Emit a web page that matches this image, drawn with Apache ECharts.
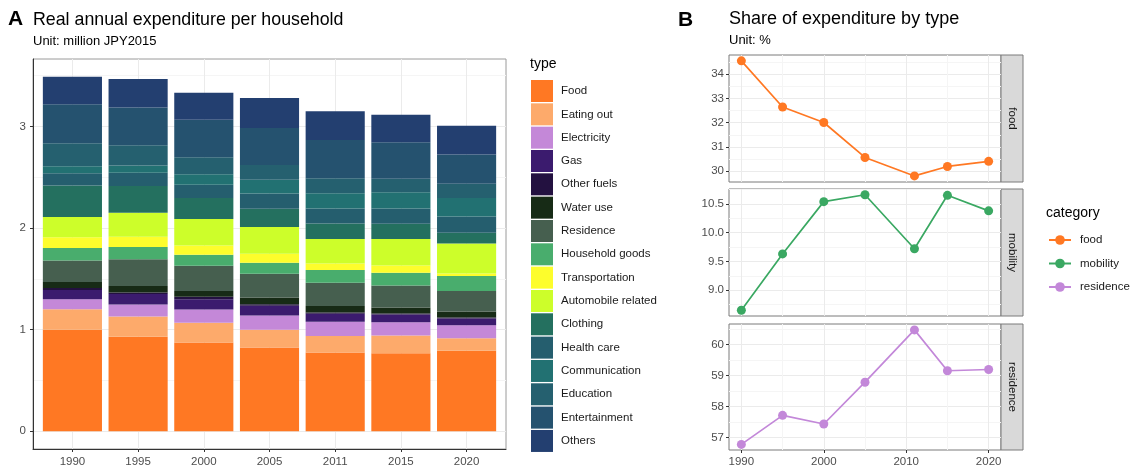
<!DOCTYPE html>
<html><head><meta charset="utf-8">
<script src="https://cdn.jsdelivr.net/npm/echarts@6/dist/echarts.min.js"></script>
<style>html,body{margin:0;padding:0;background:#fff}#c{width:1131px;height:468px}</style>
</head><body><div id="c"></div>
<script>
// ---- Panel A data (million JPY2015) ----
const years = ['1990','1995','2000','2005','2011','2015','2020'];
const types = ['Food','Eating out','Electricity','Gas','Other fuels','Water use','Residence','Household goods','Transportation','Automobile related','Clothing','Health care','Communication','Education','Entertainment','Others'];
const food           = [1.00, 0.93, 0.873, 0.824, 0.775, 0.769, 0.792];
const eatingOut      = [0.20, 0.20, 0.195, 0.176, 0.163, 0.173, 0.124];
const electricity    = [0.10, 0.118, 0.131, 0.14, 0.14, 0.13, 0.127];
const gas            = [0.09, 0.104, 0.101, 0.095, 0.079, 0.078, 0.068];
const otherFuels     = [0.02, 0.013, 0.023, 0.016, 0.013, 0.01, 0.01];
const waterUse       = [0.06, 0.065, 0.058, 0.066, 0.062, 0.059, 0.059];
const residence      = [0.21, 0.264, 0.249, 0.234, 0.231, 0.215, 0.201];
const householdGoods = [0.125, 0.121, 0.107, 0.108, 0.124, 0.127, 0.147];
const transportation = [0.105, 0.101, 0.091, 0.088, 0.065, 0.071, 0.026];
const automobile     = [0.20, 0.234, 0.261, 0.263, 0.241, 0.261, 0.294];
const clothing       = [0.31, 0.264, 0.208, 0.18, 0.153, 0.15, 0.107];
const healthCare     = [0.12, 0.131, 0.13, 0.15, 0.147, 0.15, 0.16];
const communication  = [0.07, 0.072, 0.102, 0.136, 0.15, 0.159, 0.182];
const education      = [0.225, 0.198, 0.169, 0.144, 0.147, 0.134, 0.14];
const entertainment  = [0.385, 0.372, 0.368, 0.365, 0.377, 0.359, 0.287];
const others         = [0.27, 0.28, 0.267, 0.295, 0.283, 0.27, 0.284];
const yTicksA = [0, 1, 2, 3];
const yMinorA = [0.5, 1.5, 2.5, 3.5];

// ---- Panel B data (%) ----
const shareYears     = [1990, 1995, 2000, 2005, 2011, 2015, 2020];
const foodShare      = [34.55, 32.65, 32.01, 30.57, 29.81, 30.20, 30.41];
const mobilityShare  = [8.65, 9.63, 10.54, 10.66, 9.72, 10.65, 10.38];
const residenceShare = [56.78, 57.72, 57.44, 58.79, 60.48, 59.16, 59.20];
const xTicksB = [1990, 2000, 2010, 2020];
const xMinorB = [1995, 2005, 2015];
const foodTicks = [30, 31, 32, 33, 34];
const foodMinor = [30.5, 31.5, 32.5, 33.5, 34.5];
const mobTicks = [9.0, 9.5, 10.0, 10.5];
const mobMinor = [8.75, 9.25, 9.75, 10.25, 10.75];
const resTicks = [57, 58, 59, 60];
const resMinor = [57.5, 58.5, 59.5, 60.5];

const typeValues = [food, eatingOut, electricity, gas, otherFuels, waterUse, residence, householdGoods, transportation, automobile, clothing, healthCare, communication, education, entertainment, others];
const typeColors = ['#ff7823','#fdaa6b','#c488d8','#3b1b6e','#231140','#172b16','#465f4f','#49ad6d','#fdfd2c','#cdfe2a','#24705f','#255e6e','#227172','#25606f','#25526f','#233f70'];

const FONT = '"Liberation Sans", Arial, sans-serif';
const MAJ = '#ebebeb', MIN = '#f5f5f5', AX = '#333333', LAB = '#4d4d4d';

const chart = echarts.init(document.getElementById('c'), null, {renderer: 'canvas'});

const grids = [
  {left: 33, top: 59, width: 473, height: 392, show: true, borderColor: '#9a9a9a', borderWidth: 1, backgroundColor: '#fff'},
  {left: 729, top: 55, width: 272, height: 127, show: true, borderColor: '#7a7a7a', borderWidth: 1},
  {left: 729, top: 189, width: 272, height: 127, show: true, borderColor: '#7a7a7a', borderWidth: 1},
  {left: 729, top: 324, width: 272, height: 126, show: true, borderColor: '#7a7a7a', borderWidth: 1}
];

function majorAxis(grid, min, max, ticks, opts) {
  opts = opts || {};
  return {
    type: 'value', gridIndex: grid, min: min, max: max, position: opts.position,
    axisLine: {show: !!opts.line, onZero: false, lineStyle: {color: AX, width: 1}},
    axisTick: {show: opts.tick !== false, customValues: ticks, length: 3, lineStyle: {color: AX}},
    axisLabel: {show: opts.label !== false, customValues: ticks, color: LAB, fontSize: 11.5, fontFamily: FONT,
                margin: opts.margin || 5, formatter: opts.fmt || (v => String(v))},
    splitLine: {show: true, lineStyle: {color: MAJ, width: 1}},
    minorTick: {show: false}
  };
}
function minorAxis(grid, min, max, ticks, position) {
  return {
    type: 'value', gridIndex: grid, min: min, max: max, position: position,
    axisLine: {show: false}, axisTick: {show: false, customValues: ticks},
    axisLabel: {show: false, customValues: ticks},
    splitLine: {show: true, lineStyle: {color: MIN, width: 1}}
  };
}

const xAxis = [
  majorAxis(0, -0.6, 6.6, [0,1,2,3,4,5,6], {line: true, position: 'bottom', margin: 7, fmt: v => years[v]}),
  majorAxis(1, 1988.5, 2021.5, xTicksB, {position: 'bottom', tick: false, label: false}),
  minorAxis(1, 1988.5, 2021.5, xMinorB, 'top'),
  majorAxis(2, 1988.5, 2021.5, xTicksB, {position: 'bottom', tick: false, label: false}),
  minorAxis(2, 1988.5, 2021.5, xMinorB, 'top'),
  majorAxis(3, 1988.5, 2021.5, xTicksB, {position: 'bottom', margin: 6}),
  minorAxis(3, 1988.5, 2021.5, xMinorB, 'top')
];
const yAxis = [
  majorAxis(0, -0.1745, 3.6645, yTicksA, {line: true, position: 'left', margin: 7}),
  minorAxis(0, -0.1745, 3.6645, yMinorA, 'right'),
  majorAxis(1, 29.56, 34.79, foodTicks, {position: 'left', margin: 5}),
  minorAxis(1, 29.56, 34.79, foodMinor, 'right'),
  majorAxis(2, 8.55, 10.76, mobTicks, {position: 'left', margin: 5, fmt: v => v.toFixed(1)}),
  minorAxis(2, 8.55, 10.76, mobMinor, 'right'),
  majorAxis(3, 56.6, 60.67, resTicks, {position: 'left', margin: 5}),
  minorAxis(3, 56.6, 60.67, resMinor, 'right')
];

// value first, category index second -> stacking happens on the value (y) dimension
const series = types.map((t, k) => ({
  name: t, type: 'bar', stack: 'total', xAxisIndex: 0, yAxisIndex: 0,
  barWidth: '90%',
  encode: {x: 1, y: 0},
  itemStyle: {color: typeColors[k]},
  data: typeValues[k].map((v, i) => [v, i])
}));

const lineDefs = [
  {name: 'food', vals: foodShare, color: '#ff7823', x: 1, y: 2},
  {name: 'mobility', vals: mobilityShare, color: '#3aa862', x: 3, y: 4},
  {name: 'residence', vals: residenceShare, color: '#c388d9', x: 5, y: 6}
];
lineDefs.forEach(d => series.push({
  name: d.name, type: 'line', xAxisIndex: d.x, yAxisIndex: d.y,
  symbol: 'circle', symbolSize: 9, showSymbol: true,
  lineStyle: {color: d.color, width: 1.7}, itemStyle: {color: d.color},
  data: shareYears.map((y, i) => [y, d.vals[i]])
}));

function strip(top, h, label) {
  return [
    {type: 'rect', shape: {x: 1001, y: top, width: 22, height: h}, style: {fill: '#d9d9d9', stroke: '#7a7a7a', lineWidth: 1}},
    {type: 'text', x: 1012, y: top + h / 2, rotation: -Math.PI / 2,
     style: {text: label, fontSize: 11.5, fontFamily: FONT, fill: '#1a1a1a', align: 'center', verticalAlign: 'middle'}}
  ];
}

const tStyle = (size, weight) => ({fontSize: size, fontWeight: weight || 'normal', color: '#000', fontFamily: FONT});

chart.setOption({
  animation: false,
  backgroundColor: '#fff',
  title: [
    {text: 'A', left: 8, top: 9, padding: 0, textStyle: tStyle(21, 'bold')},
    {text: 'Real annual expenditure per household', left: 33, top: 11, padding: 0, textStyle: tStyle(17.8)},
    {text: 'Unit: million JPY2015', left: 33, top: 35, padding: 0, textStyle: tStyle(13)},
    {text: 'B', left: 678, top: 10, padding: 0, textStyle: tStyle(21, 'bold')},
    {text: 'Share of expenditure by type', left: 729, top: 10, padding: 0, textStyle: tStyle(18)},
    {text: 'Unit: %', left: 729, top: 34, padding: 0, textStyle: tStyle(13)},
    {text: 'type', left: 530, top: 57, padding: 0, textStyle: tStyle(14)},
    {text: 'category', left: 1046, top: 206, padding: 0, textStyle: tStyle(14)}
  ],
  legend: [
    {data: types, orient: 'vertical', left: 531, top: 80, padding: 0, itemWidth: 22, itemHeight: 22, itemGap: 1.33,
     icon: 'rect', selectedMode: false,
     textStyle: {fontSize: 11.5, color: '#1a1a1a', fontFamily: FONT, padding: [0, 0, 0, 3]}},
    {data: ['food', 'mobility', 'residence'], orient: 'vertical', left: 1048, top: 234, padding: 0,
     itemWidth: 22, itemHeight: 12, itemGap: 11.5, selectedMode: false,
     textStyle: {fontSize: 11.5, color: '#1a1a1a', fontFamily: FONT, padding: [0, 0, 0, 4]}}
  ],
  grid: grids,
  xAxis: xAxis,
  yAxis: yAxis,
  series: series,
  graphic: [].concat(strip(55, 127, 'food'), strip(189, 127, 'mobility'), strip(324, 126, 'residence'))
});
</script></body></html>
